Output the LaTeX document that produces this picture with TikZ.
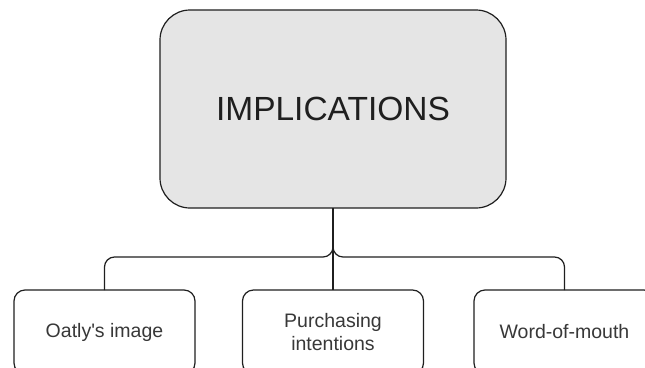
\documentclass[tikz,border=0pt]{standalone}
\usepackage{fontspec}
\setmainfont{Liberation Sans}
\begin{document}
\begin{tikzpicture}[x=1pt,y=-1pt,
  box/.style={draw=black!88, line width=1.2pt, inner sep=0pt, outer sep=0pt},
  topbox/.style={box, fill=black!10, rounded corners=30pt,
    minimum width=346pt, minimum height=198pt,
    font=\fontsize{33.5}{40}\selectfont, text=black!88},
  leaf/.style={box, fill=white, rounded corners=11pt,
    minimum width=181pt, minimum height=84pt, align=center,
    font=\fontsize{19.5}{23.4}\selectfont, text=black!78},
  conn/.style={draw=black!88, line width=1.2pt, rounded corners=10pt}]
  \useasboundingbox (0,0) rectangle (645,367);
  \clip (0,0) rectangle (645,367);

  % root of the tree
  \node[topbox] (main) at (333,109) {IMPLICATIONS};

  % the three branches
  \node[leaf] (left)  at (104.5,332) {Oatly\textquotesingle s image};
  \node[leaf] (mid)   at (333,332)   {Purchasing\\intentions};
  \node[leaf] (right) at (564.5,332) {Word-of-mouth};

  % connectors
  \coordinate (hub) at (333,257);
  \draw[conn] (main.south) -- (hub) -| (left.north);
  \draw[conn] (main.south) -- (hub) -| (right.north);
  \draw[conn] (main.south) -- (mid.north);
\end{tikzpicture}
\end{document}
